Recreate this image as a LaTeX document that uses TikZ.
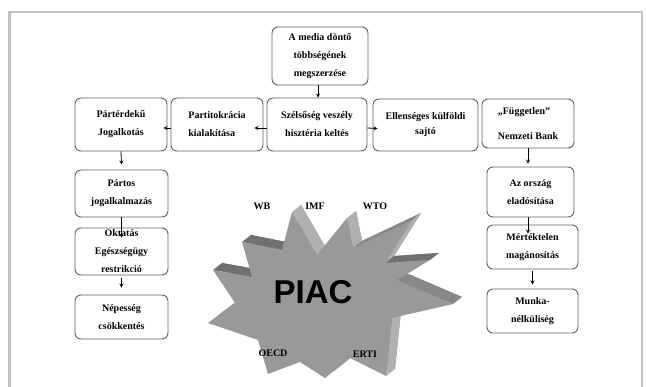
\documentclass[tikz,border=0pt]{standalone}
\usepackage{fontspec}
\setmainfont{Liberation Serif}
\newfontfamily\piacfont{Liberation Sans}
\definecolor{framegray}{gray}{0.76}
\definecolor{boxgray}{gray}{0.38}
\definecolor{starfront}{gray}{0.6}
\definecolor{starlight}{gray}{0.69}
\definecolor{stardark}{gray}{0.44}
\definecolor{starmid}{gray}{0.53}
\begin{document}
\begin{tikzpicture}[>=stealth, x=1pt, y=-1pt,
    box/.style={draw=boxgray, line width=0.9pt, rounded corners=6pt, align=center,
        inner sep=0pt, font=\bfseries\fontsize{10}{18}\selectfont},
    tag/.style={font=\bfseries\fontsize{10}{12}\selectfont},
    arr/.style={->, line width=0.8pt}]
    \useasboundingbox (0,0) rectangle (646,387);
    \draw[framegray, line width=2.5pt] (9.7,400) -- (9.7,11.8) -- (642,11.8) -- (642,400);
    \foreach \i/\xy in {1/{292,212},2/{317,255},3/{347,218},4/{353,248},5/{412,220},
        6/{385,263},7/{430,260},8/{397,280},9/{453,304},10/{392,318},11/{386,376},
        12/{350,358},13/{325,378},14/{300,362},15/{268,374},16/{258,340},
        17/{208,323},18/{235,303},19/{213,270},20/{252,277},21/{242,242},22/{282,250}}
    {
        \coordinate (s\i) at (\xy);
        \coordinate (b\i) at ([shift={(9,-7)}]\xy);
    }
    \fill[starmid] (b1) \foreach \i in {2,...,22}{ -- (b\i)} -- cycle;
    \foreach \a/\b/\c in {1/2/starlight,3/4/starlight,4/5/starmid,5/6/starlight,6/7/stardark,
        8/9/starmid,10/11/starlight,19/20/stardark,21/22/stardark}
    {
        \fill[\c] (s\a) -- (s\b) -- (b\b) -- (b\a) -- cycle;
    }
    \fill[starfront] (s1) \foreach \i in {2,...,22}{ -- (s\i)} -- cycle;
    \node[font=\piacfont\bfseries\fontsize{33}{33}\selectfont] (piac) at (313,292) {PIAC};
    \node[tag] (wb) at (262,206) {WB};
    \node[tag] (imf) at (315,206) {IMF};
    \node[tag] (wto) at (375,206) {WTO};
    \node[tag] (oecd) at (273,353) {OECD};
    \node[tag] (erti) at (365,354) {ERTI};

    \node[box, minimum width=96pt, minimum height=58pt] (media) at (320,56)
        {A media döntő\\többségének\\megszerzése};
    \node[box, minimum width=92pt, minimum height=53pt] (parterdeku) at (121,124.5)
        {Pártérdekű\\Jogalkotás};
    \node[box, align=left, minimum width=92pt, minimum height=53pt] (partitokracia) at (217,124.5)
        {Partitokrácia\\kialakítása};
    \node[box, minimum width=100pt, minimum height=53pt] (szelsoseg) at (317,124.5)
        {Szélsőség veszély\\hisztéria keltés};
    \node[box, minimum width=105pt, minimum height=52pt] (ellenseges) at (425.5,125)
        {Ellenséges külföldi\\[-3pt]sajtó};
    \node[box, align=left, minimum width=92pt, minimum height=49pt] (fuggetlen) at (528,123.5)
        {„Független”\\[7pt]Nemzeti Bank};
    \node[box, minimum width=93pt, minimum height=47pt] (partos) at (121.5,193.5)
        {Pártos\\jogalkalmazás};
    \node[box, minimum width=93pt, minimum height=47pt] (oktatas) at (121.5,251.5)
        {Oktatás\\Egészségügy\\restrikció};
    \node[box, minimum width=93pt, minimum height=44pt] (nepesseg) at (121.5,317)
        {Népesség\\csökkentés};
    \node[box, minimum width=87pt, minimum height=50pt] (orszag) at (530.5,192)
        {Az ország\\eladósítása};
    \node[box, minimum width=91pt, minimum height=44pt] (mertektelen) at (532.5,247)
        {Mértéktelen\\magánosítás};
    \node[box, minimum width=91pt, minimum height=44pt] (munka) at (532.5,311)
        {Munka-\\nélküliség};

    \draw[arr] ([xshift=-2pt]media.south) -- ([xshift=-2pt]media.south |- szelsoseg.north);
    \draw[arr] ([yshift=-3.5pt]szelsoseg.west) -- ([xshift=-9pt,yshift=-3.5pt]partitokracia.east);
    \draw[arr] ([yshift=-3.5pt]partitokracia.west) -- ([xshift=-4pt,yshift=-3.5pt]parterdeku.east);
    \draw[arr] ([yshift=-3.5pt]szelsoseg.east) -- ([xshift=5pt,yshift=-3.5pt]ellenseges.west);
    \draw[arr] (parterdeku.south) -- ([yshift=5pt]partos.north);
    \draw[arr] (partos.south) -- ([yshift=-10pt]oktatas.north);
    \draw[arr] ([yshift=-3pt]oktatas.south) -- ([yshift=7pt]nepesseg.north);
    \draw[arr] (fuggetlen.south) -- ([yshift=3pt]fuggetlen.south |- orszag.north);
    \draw[arr] ([xshift=-2.5pt]orszag.south) -- ([xshift=-2.5pt,yshift=-9pt]orszag.south |- mertektelen.north);
    \draw[arr] ([yshift=-2pt]mertektelen.south) -- ([yshift=4pt]munka.north);
\end{tikzpicture}
\end{document}
